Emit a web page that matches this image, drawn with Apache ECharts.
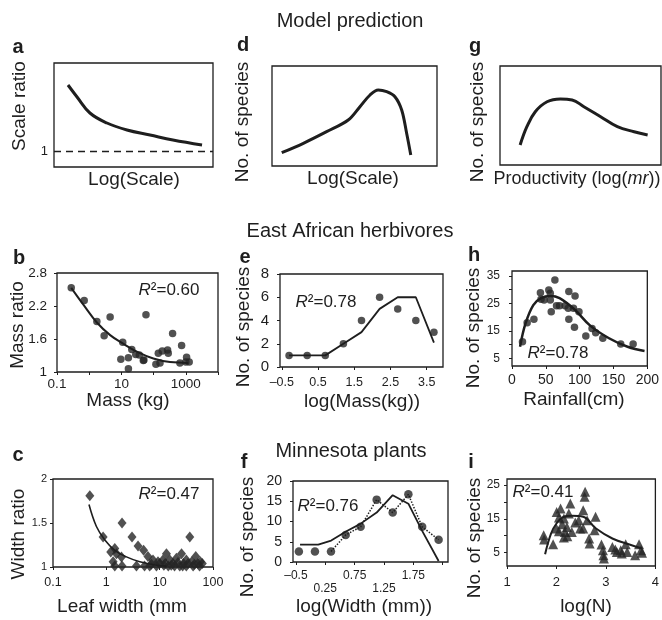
<!DOCTYPE html>
<html>
<head>
<meta charset="utf-8">
<title>Scale and species richness</title>
<script src="https://cdn.jsdelivr.net/npm/echarts@6/dist/echarts.min.js"></script>
<style>
  html, body { margin: 0; padding: 0; background: #fff; }
  #chart { width: 662px; height: 620px; }
</style>
</head>
<body>
<div id="chart"></div>
<script>
// ---- data ----
// a: model prediction, scale ratio vs log(scale)
const aCurveX = [0.88, 1.45, 2.26, 3.33, 4.59, 6.04, 7.48, 9.31];
const aCurveY = [2.65, 2.35, 1.95, 1.7, 1.525, 1.4, 1.275, 1.15];
const aRefLine = 1;
// d: model prediction, species vs log(scale)
const dCurveX = [0.59, 1.9, 3.31, 4.62, 5.33, 5.94, 6.44, 6.95, 7.45, 7.86, 8.16, 8.41];
const dCurveY = [1.33, 2.27, 3.43, 4.6, 5.93, 7.1, 7.6, 7.43, 6.93, 5.6, 3.27, 1.1];
// g: model prediction, species vs productivity
const gCurveX = [1.25, 1.67, 2.19, 2.92, 3.75, 4.48, 5.21, 6.25, 7.29, 8.33, 9.17];
const gCurveY = [2.02, 3.87, 5.38, 6.39, 6.67, 6.57, 5.89, 4.88, 3.87, 3.36, 3.03];

// b: herbivores, mass ratio vs mass (kg)
const bMass = [0.277, 0.70, 1.73, 4.47, 2.91, 11, 9.6, 16.5, 16.5, 21, 27.9, 36, 47.9, 58, 50,
  118, 158, 140, 186, 285, 272, 389, 741, 656, 1059, 1274, 1000];
const bRatio = [2.53, 2.30, 1.92, 2.0, 1.66, 1.54, 1.23, 1.26, 1.06, 1.41, 1.32, 1.31, 1.21, 2.04, 1.22,
  1.14, 1.165, 1.34, 1.38, 1.34, 1.40, 1.70, 1.48, 1.165, 1.27, 1.18, 1.18];
const bFitX = [0.277, 0.667, 1.73, 4.47, 11, 30, 98, 324, 1190];
const bFitY = [2.53, 2.22, 1.90, 1.67, 1.52, 1.37, 1.245, 1.18, 1.165];
const bXTicks = [0.1, 10, 1000];
const bYTicks = [1, 1.6, 2.2, 2.8];

// e: herbivores, species vs log(mass)
const eLogMass = [-0.3, 0.2, 0.7, 1.2, 1.7, 2.2, 2.7, 3.2, 3.7];
const eSpecies = [1, 1, 1, 2, 4, 6, 5, 4, 3];
const eFit = [1, 1, 1, 2, 3, 5, 6, 6, 2.1];
const eXTicks = [-0.5, 0.5, 1.5, 2.5, 3.5];

// h: herbivores, species vs rainfall
const hRain = [15.5, 22.4, 32.4, 42, 42.9, 47.5, 54.4, 56.6, 63.4, 56.6, 58, 65.8, 70.3, 84, 93.2, 83.1,
  84, 90.9, 92.3, 99, 109.1, 118.3, 123.7, 134.2, 160.7, 179, 78.5];
const hSpecies = [11.05, 17.97, 19.2, 28.9, 26.5, 26.2, 29.9, 28.7, 33.5, 26.2, 22, 24.1, 24.1, 29.3, 27.7, 23.2,
  19.2, 23.2, 16.3, 22, 13.1, 15.9, 14.3, 12.3, 10.2, 10.2, 24.1];
const hFitX = [11.9, 20.1, 31.5, 42.9, 56.6, 70.3, 93.2, 116, 143.4, 170.8, 195.9];
const hFitY = [9.2, 17.8, 24.4, 26.9, 27.7, 26.9, 22.6, 16.8, 12.3, 9.2, 7.7];
const hYTicks = [5, 10, 15, 20, 25, 30, 35];
const hYLabels = [5, 15, 25, 35];

// c: plants, width ratio vs leaf width (mm)
const cWidth = [0.49, 0.87, 1.21, 1.44, 1.55, 1.34, 1.44, 1.97, 1.92, 1.97, 3.03, 3.93, 5.0, 6.03, 7.5, 5.2,
  3.67, 6.5, 8.7, 10, 11.5, 13.4, 15.5, 17.8, 14.5, 20.6, 25.7, 28, 31.6, 36.7, 39.9, 47.5, 52, 56, 63,
  7.0, 19, 23.8, 42.4, 31.6, 12.7, 9.3, 12, 16.5, 22, 27, 34, 45, 58];
const cRatio = [1.81, 1.34, 1.17, 1.21, 1.15, 1.06, 1.01, 1.50, 1.115, 1.01, 1.34, 1.24, 1.19, 1.12, 1.08, 1.01,
  1.01, 1.01, 1.01, 1.04, 1.08, 1.15, 1.08, 1.04, 1.01, 1.10, 1.15, 1.04, 1.01, 1.34, 1.06, 1.12, 1.04, 1.01, 1.04,
  1.03, 1.01, 1.01, 1.01, 1.08, 1.04, 1.06, 1.02, 1.02, 1.05, 1.01, 1.04, 1.03, 1.06];
const cFitX = [0.473, 0.652, 0.93, 1.44, 2.38, 4.24, 8.7, 13.4];
const cFitY = [1.71, 1.46, 1.31, 1.19, 1.115, 1.06, 1.02, 1.01];

// f: plants, species vs log(width)
const fLogW = [-0.2, 0.074, 0.347, 0.597, 0.852, 1.125, 1.398, 1.665, 1.90, 2.18];
const fSpecies = [2.6, 2.6, 2.6, 6.67, 8.7, 15.4, 12.2, 16.7, 8.7, 5.5];
const fFitX = [-0.18, 0.13, 0.35, 0.61, 0.84, 1.125, 1.398, 1.665, 1.9, 2.18];
const fFitY = [4.3, 4.3, 5.3, 7.6, 9.35, 12.2, 16.5, 14.4, 7.7, 0.24];
const fXTicks = [-0.25, 0.25, 0.75, 1.25, 1.75, 2.25];
const fXLabelVals = [-0.25, 0.25, 0.75, 1.25, 1.75];
const fXLabels = ['\u20130.5', '0.25', '0.75', '1.25', '1.75'];

// i: plants, species vs log(N)
const iLogN = [1.742, 1.75, 1.933, 2.004, 2.083, 2.05, 2.15, 2.116, 2.0, 2.05, 2.17, 2.21, 2.28, 2.25, 2.15, 2.22,
  2.31, 2.38, 2.45, 2.54, 2.58, 2.57, 2.48, 2.54, 2.62, 2.66, 2.67, 2.79, 2.77, 2.91, 2.94, 2.95, 2.96,
  3.13, 3.19, 3.30, 3.22, 3.32, 3.40, 3.43, 3.59, 3.67, 3.71, 3.73];
const iSpecies = [10.13, 8.86, 7.46, 17.05, 18.05, 15.4, 15.1, 13.4, 12.1, 11.3, 11.1, 12.6, 19.5, 16.6, 9.45, 9.8,
  11.1, 13.9, 14.6, 17.55, 23.0, 21.5, 12.1, 12.1, 14.6, 9.15, 7.67, 15.6, 11.6, 7.37, 5.68, 4.2, 3.22,
  6.66, 5.89, 5.68, 5.18, 4.7, 7.46, 5.18, 4.2, 7.46, 5.68, 4.9];
const iFitX = [1.77, 1.89, 2.0, 2.15, 2.31, 2.54, 2.80, 3.13, 3.46, 3.73];
const iFitY = [4.5, 10.6, 13.6, 15.6, 15.9, 15.6, 12.1, 9.15, 7.46, 6.2];
const iYTicks = [5, 10, 15, 20, 25];
const iYLabels = [5, 15, 25];

const FONT = '"Liberation Sans", Arial, Helvetica, sans-serif';
const INK = '#1e1e1e';
const DOT = '#262626';

const zip = (xs, ys) => xs.map((x, k) => [x, ys[k]]);

// plot boxes in pixels: a d g / b e h / c f i
const grids = [
  { left: 54, top: 63, width: 159, height: 104 },   // a
  { left: 272, top: 66, width: 165, height: 100 },  // d
  { left: 500, top: 66, width: 161, height: 99 },   // g
  { left: 57, top: 273, width: 161, height: 99 },   // b
  { left: 280, top: 274, width: 163, height: 93 },  // e
  { left: 512, top: 271, width: 146, height: 95 },  // h
  { left: 53, top: 479, width: 160, height: 88 },   // c
  { left: 293, top: 481, width: 155, height: 81 },  // f
  { left: 507, top: 479, width: 154, height: 87 }   // i
].map(g => Object.assign({ show: true, borderColor: INK, borderWidth: 1.3, containLabel: false }, g));

const lbl = (size, margin, extra) => Object.assign({ color: INK, fontFamily: FONT, fontSize: size, margin: margin }, extra || {});
const tick = (extra) => Object.assign({ show: true, length: 3, lineStyle: { color: INK, width: 1 } }, extra || {});
// axis line hidden (the grid border draws the box); never cross at zero
const bare = (gi, min, max) => ({
  gridIndex: gi, type: 'value', min: min, max: max,
  axisLine: { show: false, onZero: false }, axisTick: { show: false }, axisLabel: { show: false }, splitLine: { show: false }
});
const nearest = (v, list) => list.findIndex(t => Math.abs(t - v) < 1e-6 * Math.max(1, Math.abs(t)));

const xAxis = [
  bare(0, 0, 10),
  bare(1, 0, 10),
  bare(2, 0, 10),
  Object.assign(bare(3, 0.1, 10000), {
    type: 'log', logBase: 10,
    axisTick: tick(),
    axisLabel: lbl(13.5, 5, {
      formatter: v => { const k = bXTicks.findIndex(t => Math.abs(Math.log10(t) - Math.log10(v)) < 0.01); return k < 0 ? '' : String(bXTicks[k]); }
    })
  }),
  Object.assign(bare(4, -0.55, 3.95), {
    axisTick: tick({ customValues: eXTicks }),
    axisLabel: lbl(12.5, 9, { customValues: eXTicks, formatter: v => (v < 0 ? '\u2013' + Math.abs(v) : String(v)) })
  }),
  Object.assign(bare(5, 0, 200), { interval: 50, axisTick: tick(), axisLabel: lbl(14, 7) }),
  Object.assign(bare(6, 0.1, 100), {
    type: 'log', logBase: 10,
    axisTick: tick(),
    axisLabel: lbl(12.5, 9, { formatter: v => String(Math.round(v * 10) / 10) })
  }),
  Object.assign(bare(7, -0.30, 2.34), {
    axisTick: tick({ customValues: fXTicks }),
    axisLabel: lbl(12, 7, {
      lineHeight: 13,
      customValues: fXLabelVals,
      formatter: v => { const k = nearest(v, fXLabelVals); return k < 0 ? '' : (k % 2 ? '\n' + fXLabels[k] : fXLabels[k]); }
    })
  }),
  Object.assign(bare(8, 1, 4), { interval: 1, axisTick: tick(), axisLabel: lbl(13, 9.5) })
];

const yAxis = [
  Object.assign(bare(0, 0.6, 3.2), { axisLabel: lbl(13, 6, { customValues: [aRefLine] }) }),
  bare(1, 0, 10),
  bare(2, 0, 10),
  Object.assign(bare(3, 1, 2.8), {
    axisTick: tick({ customValues: bYTicks }),
    axisLabel: lbl(13.5, 10, { customValues: bYTicks })
  }),
  Object.assign(bare(4, 0, 8), { interval: 2, axisTick: tick(), axisLabel: lbl(15, 11) }),
  Object.assign(bare(5, 2.2, 36.8), {
    axisTick: tick({ customValues: hYTicks }),
    axisLabel: lbl(12, 12, { customValues: hYLabels })
  }),
  Object.assign(bare(6, 1, 2), { interval: 0.5, axisTick: tick(), axisLabel: lbl(11, 6) }),
  Object.assign(bare(7, 0, 20), { interval: 5, axisTick: tick(), axisLabel: lbl(14, 11) }),
  Object.assign(bare(8, 1, 26.8), {
    axisTick: tick({ customValues: iYTicks }),
    axisLabel: lbl(12, 7, { customValues: iYLabels })
  })
];

const curve = (i, xs, ys, width, extra) => Object.assign({
  type: 'line', xAxisIndex: i, yAxisIndex: i, data: zip(xs, ys),
  symbol: 'none', lineStyle: { color: INK, width: width }, z: 3
}, extra || {});
const dots = (i, xs, ys, symbol, size) => ({
  type: 'scatter', xAxisIndex: i, yAxisIndex: i, data: zip(xs, ys),
  symbol: symbol, symbolSize: size, itemStyle: { color: DOT }, z: 2
});

const series = [
  curve(0, aCurveX, aCurveY, 3, {
    smooth: 0.4,
    markLine: { silent: true, symbol: 'none', label: { show: false }, lineStyle: { type: [7, 5], color: INK, width: 1.3 }, data: [{ yAxis: aRefLine }] }
  }),
  curve(1, dCurveX, dCurveY, 3, { smooth: 0.35 }),
  curve(2, gCurveX, gCurveY, 3, { smooth: 0.4 }),
  dots(3, bMass, bRatio, 'circle', 7.5),
  curve(3, bFitX, bFitY, 2, { smooth: 0.4 }),
  dots(4, eLogMass, eSpecies, 'circle', 7.5),
  curve(4, eLogMass, eFit, 1.8),
  dots(5, hRain, hSpecies, 'circle', 7.5),
  curve(5, hFitX, hFitY, 2.5, { smooth: 0.4 }),
  dots(6, cWidth, cRatio, 'diamond', [9, 11]),
  curve(6, cFitX, cFitY, 1.6, { smooth: 0.4 }),
  dots(7, fLogW, fSpecies, 'circle', 8.5),
  curve(7, fFitX, fFitY, 1.8),
  curve(7, fLogW.slice(2), fSpecies.slice(2), 1.5, { lineStyle: { color: INK, width: 1.5, type: 'dotted' } }),
  dots(8, iLogN, iSpecies, 'triangle', 10),
  curve(8, iFitX, iFitY, 2, { smooth: 0.4 })
];

// ---- text: titles, panel letters, axis names, R² notes ----
function txt(x, y, text, size, extra) {
  const st = Object.assign({
    text: text, fontFamily: FONT, fontSize: size, fill: INK,
    align: 'center', verticalAlign: 'middle', textAlign: 'center', textVerticalAlign: 'middle'
  }, (extra && extra.style) || {});
  return { type: 'text', x: x, y: y, rotation: (extra && extra.rotation) || 0, silent: true, style: st };
}
const vtxt = (x, y, text) => txt(x, y, text, 19, { rotation: Math.PI / 2 });
const letter = (x, y, ch) => txt(x, y, ch, 20, { style: { fontWeight: 'bold' } });
const rsq = (x, y, val) => txt(x, y, '{i|R}\u00b2=' + val, 17, {
  style: { rich: { i: { fontStyle: 'italic', fontSize: 17, fontFamily: FONT, fill: INK } } }
});

const graphic = [
  txt(350, 21, 'Model prediction', 20),
  txt(350, 231, 'East African herbivores', 20),
  txt(351, 451, 'Minnesota plants', 20),

  letter(18, 47, 'a'), letter(243, 45, 'd'), letter(475, 46, 'g'),
  letter(19, 258, 'b'), letter(245, 257, 'e'), letter(474, 255, 'h'),
  letter(18, 455, 'c'), letter(244, 462, 'f'), letter(471, 462, 'i'),

  vtxt(20, 106, 'Scale ratio'),
  vtxt(243, 122, 'No. of species'),
  vtxt(478, 122, 'No. of species'),
  vtxt(18, 325, 'Mass ratio'),
  vtxt(244, 327, 'No. of species'),
  vtxt(474, 328, 'No. of species'),
  vtxt(19, 534, 'Width ratio'),
  vtxt(248, 537, 'No. of species'),
  vtxt(475, 538, 'No. of species'),

  txt(134, 180, 'Log(Scale)', 19),
  txt(353, 179, 'Log(Scale)', 19),
  txt(577, 179, 'Productivity (log({i|mr}))', 18, {
    style: { rich: { i: { fontStyle: 'italic', fontSize: 18, fontFamily: FONT, fill: INK } } }
  }),
  txt(128, 401, 'Mass (kg)', 19),
  txt(362, 402, 'log(Mass(kg))', 19),
  txt(574, 400, 'Rainfall(cm)', 19),
  txt(122, 607, 'Leaf width (mm', 19),
  txt(364, 607, 'log(Width (mm))', 19),
  txt(586, 607, 'log(N)', 19),

  rsq(169, 290, '0.60'),
  rsq(326, 302, '0.78'),
  rsq(558, 353, '0.78'),
  rsq(169, 494, '0.47'),
  rsq(328, 506, '0.76'),
  rsq(543, 492, '0.41')
];

const chart = echarts.init(document.getElementById('chart'), null, { renderer: 'canvas' });
chart.setOption({
  backgroundColor: '#fff',
  animation: false,
  textStyle: { fontFamily: FONT },
  grid: grids,
  xAxis: xAxis,
  yAxis: yAxis,
  series: series,
  graphic: graphic
});
</script>
</body>
</html>
